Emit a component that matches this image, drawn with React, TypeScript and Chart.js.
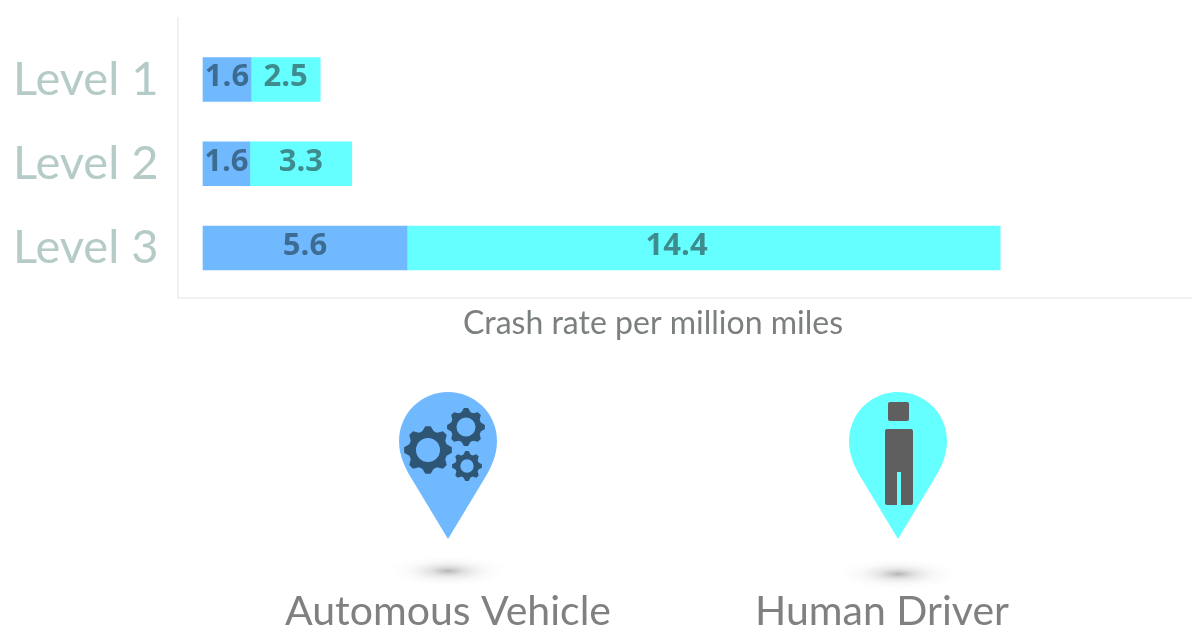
import React, { useEffect, useRef } from "react";
import { Chart, registerables } from "chart.js";

Chart.register(...registerables);

const categories = ["Level 1", "Level 2", "Level 3"];
const categoryPositions = [1, 2, 3];
const autonomousName = "Automous Vehicle";
const humanName = "Human Driver";
const axisTitle = "Crash rate per million miles";
// Printed figures, as the picture labels them.
const autonomousLabels = ["1.6", "1.6", "5.6"];
const humanLabels = ["2.5", "3.3", "14.4"];
// Bar lengths as drawn: in the picture they are not proportional to the printed figures.
const autonomousLengths = [1.2, 1.17, 5.1];
const humanLengths = [1.73, 2.55, 14.83];

const BLUE = "#71b9ff";
const CYAN = "#66ffff";

function pinPath(ctx: CanvasRenderingContext2D, cx: number, cy: number, r: number, tipY: number) {
  ctx.beginPath();
  ctx.moveTo(cx, tipY);
  ctx.lineTo(cx + 35, cy + 40);
  ctx.bezierCurveTo(cx + 43, cy + 27, cx + r, cy + 15, cx + r, cy);
  ctx.arc(cx, cy, r, 0, Math.PI, true);
  ctx.bezierCurveTo(cx - r, cy + 15, cx - 43, cy + 27, cx - 35, cy + 40);
  ctx.closePath();
}

function gear(ctx: CanvasRenderingContext2D, cx: number, cy: number, R: number, rootR: number, hole: number, teeth: number) {
  ctx.beginPath();
  const step = (Math.PI * 2) / teeth;
  for (let i = 0; i < teeth; i++) {
    const a = -Math.PI / 2 + i * step;
    const pts: [number, number][] = [
      [a - step * 0.14, R],
      [a + step * 0.14, R],
      [a + step * 0.38, rootR],
      [a + step * 0.62, rootR],
    ];
    pts.forEach(([t, rad], k) => {
      const x = cx + rad * Math.cos(t);
      const y = cy + rad * Math.sin(t);
      if (i === 0 && k === 0) ctx.moveTo(x, y);
      else ctx.lineTo(x, y);
    });
  }
  ctx.closePath();
  ctx.moveTo(cx + hole, cy);
  ctx.arc(cx, cy, hole, 0, Math.PI * 2);
  ctx.fill("evenodd");
}

function shadow(ctx: CanvasRenderingContext2D, cx: number, cy: number) {
  ctx.save();
  ctx.translate(cx, cy);
  ctx.scale(1, 0.26);
  const g = ctx.createRadialGradient(0, 0, 0, 0, 0, 60);
  g.addColorStop(0, "rgba(130,130,130,0.6)");
  g.addColorStop(0.3, "rgba(165,165,165,0.3)");
  g.addColorStop(0.65, "rgba(200,200,200,0.1)");
  g.addColorStop(1, "rgba(220,220,220,0)");
  ctx.fillStyle = g;
  ctx.beginPath();
  ctx.arc(0, 0, 60, 0, Math.PI * 2);
  ctx.fill();
  ctx.restore();
}

const decorations = {
  id: "decorations",
  afterDatasetsDraw(chart: any) {
    const ctx: CanvasRenderingContext2D = chart.ctx;
    ctx.save();
    ctx.textAlign = "center";
    ctx.textBaseline = "middle";
    ctx.font = "bold 31px 'Open Sans'";
    chart.data.datasets.forEach((ds: any, d: number) => {
      chart.getDatasetMeta(d).data.forEach((bar: any, i: number) => {
        const base = bar.base;
        const nudge = d === 1 && i === 2 ? -27 : 0;
        ctx.fillStyle = d === 0 ? "#3d6c93" : "#3f8c8e";
        ctx.fillText(ds.printed[i], (base + bar.x) / 2 + nudge, bar.y - 2);
      });
    });

    ctx.fillStyle = "#7b7f7f";
    ctx.font = "32px 'Lato'";
    ctx.fillText(axisTitle, 653, 324);

    shadow(ctx, 448, 571);
    shadow(ctx, 898, 574);

    ctx.fillStyle = BLUE;
    pinPath(ctx, 448, 441, 49, 539);
    ctx.fill();
    ctx.fillStyle = CYAN;
    pinPath(ctx, 898, 441, 49, 539);
    ctx.fill();

    ctx.fillStyle = "#2f5574";
    gear(ctx, 428, 450, 24, 19.5, 12, 8);
    gear(ctx, 466, 427, 19, 15.5, 9.5, 8);
    gear(ctx, 467, 466, 15, 12, 6.7, 8);

    ctx.fillStyle = "#5f5f5f";
    ctx.beginPath();
    ctx.roundRect(888, 402, 21, 19, 2);
    ctx.fill();
    ctx.beginPath();
    ctx.roundRect(885, 429, 28, 76, 2);
    ctx.fill();
    ctx.fillStyle = CYAN;
    ctx.fillRect(897, 472, 4, 34);

    ctx.fillStyle = "#7f8080";
    ctx.font = "41px 'Lato'";
    ctx.fillText(chart.data.datasets[0].label, 448, 612);
    ctx.fillText(chart.data.datasets[1].label, 882, 612);
    ctx.restore();
  },
};

export default function App() {
  const ref = useRef<HTMLCanvasElement>(null);
  useEffect(() => {
    document.body.style.margin = "0";
    document.body.style.background = "#ffffff";
    const chart = new Chart(ref.current!, {
      type: "bar",
      data: {
        datasets: [
          {
            label: autonomousName,
            data: autonomousLengths.map((x, i) => ({ x, y: categoryPositions[i] })),
            backgroundColor: BLUE,
            barThickness: 44,
            stack: "all",
            printed: autonomousLabels,
          } as any,
          {
            label: humanName,
            data: humanLengths.map((x, i) => ({ x, y: categoryPositions[i] })),
            backgroundColor: CYAN,
            barThickness: 44,
            stack: "all",
            printed: humanLabels,
          } as any,
        ],
      },
      plugins: [decorations],
      options: {
        indexAxis: "y",
        responsive: false,
        maintainAspectRatio: false,
        animation: false,
        layout: { autoPadding: false, padding: { left: 13, top: 18, right: 0, bottom: 331 } },
        plugins: { legend: { display: false }, tooltip: { enabled: false } },
        scales: {
          x: {
            type: "linear",
            stacked: true,
            min: -0.625,
            max: 24.725,
            grid: { display: false },
            border: { display: true, color: "#f0f1f1", width: 2 },
            ticks: { display: false },
            afterFit: (s: any) => {
              s.height = 0;
            },
          },
          y: {
            type: "linear",
            reverse: true,
            offset: false,
            bounds: "data",
            min: 0.27,
            max: 3.593,
            grid: { display: false },
            border: { display: true, color: "#f0f1f1", width: 2 },
            afterBuildTicks: (s: any) => {
              s.ticks = categoryPositions.map((value) => ({ value }));
            },
            afterFit: (s: any) => {
              s.width = 165;
              s.paddingTop = 0;
              s.paddingBottom = 0;
            },
            ticks: {
              autoSkip: false,
              crossAlign: "far",
              color: "#b5cbc8",
              font: { family: "'Lato'", size: 47 },
              callback: (v: any) => categories[categoryPositions.indexOf(Number(v))] ?? "",
            },
          },
        },
      } as any,
    });
    return () => chart.destroy();
  }, []);
  return (
    <canvas
      ref={ref}
      width={1192}
      height={629}
      style={{ position: "absolute", left: 0, top: 0, display: "block", filter: "blur(0.6px)" }}
    />
  );
}
